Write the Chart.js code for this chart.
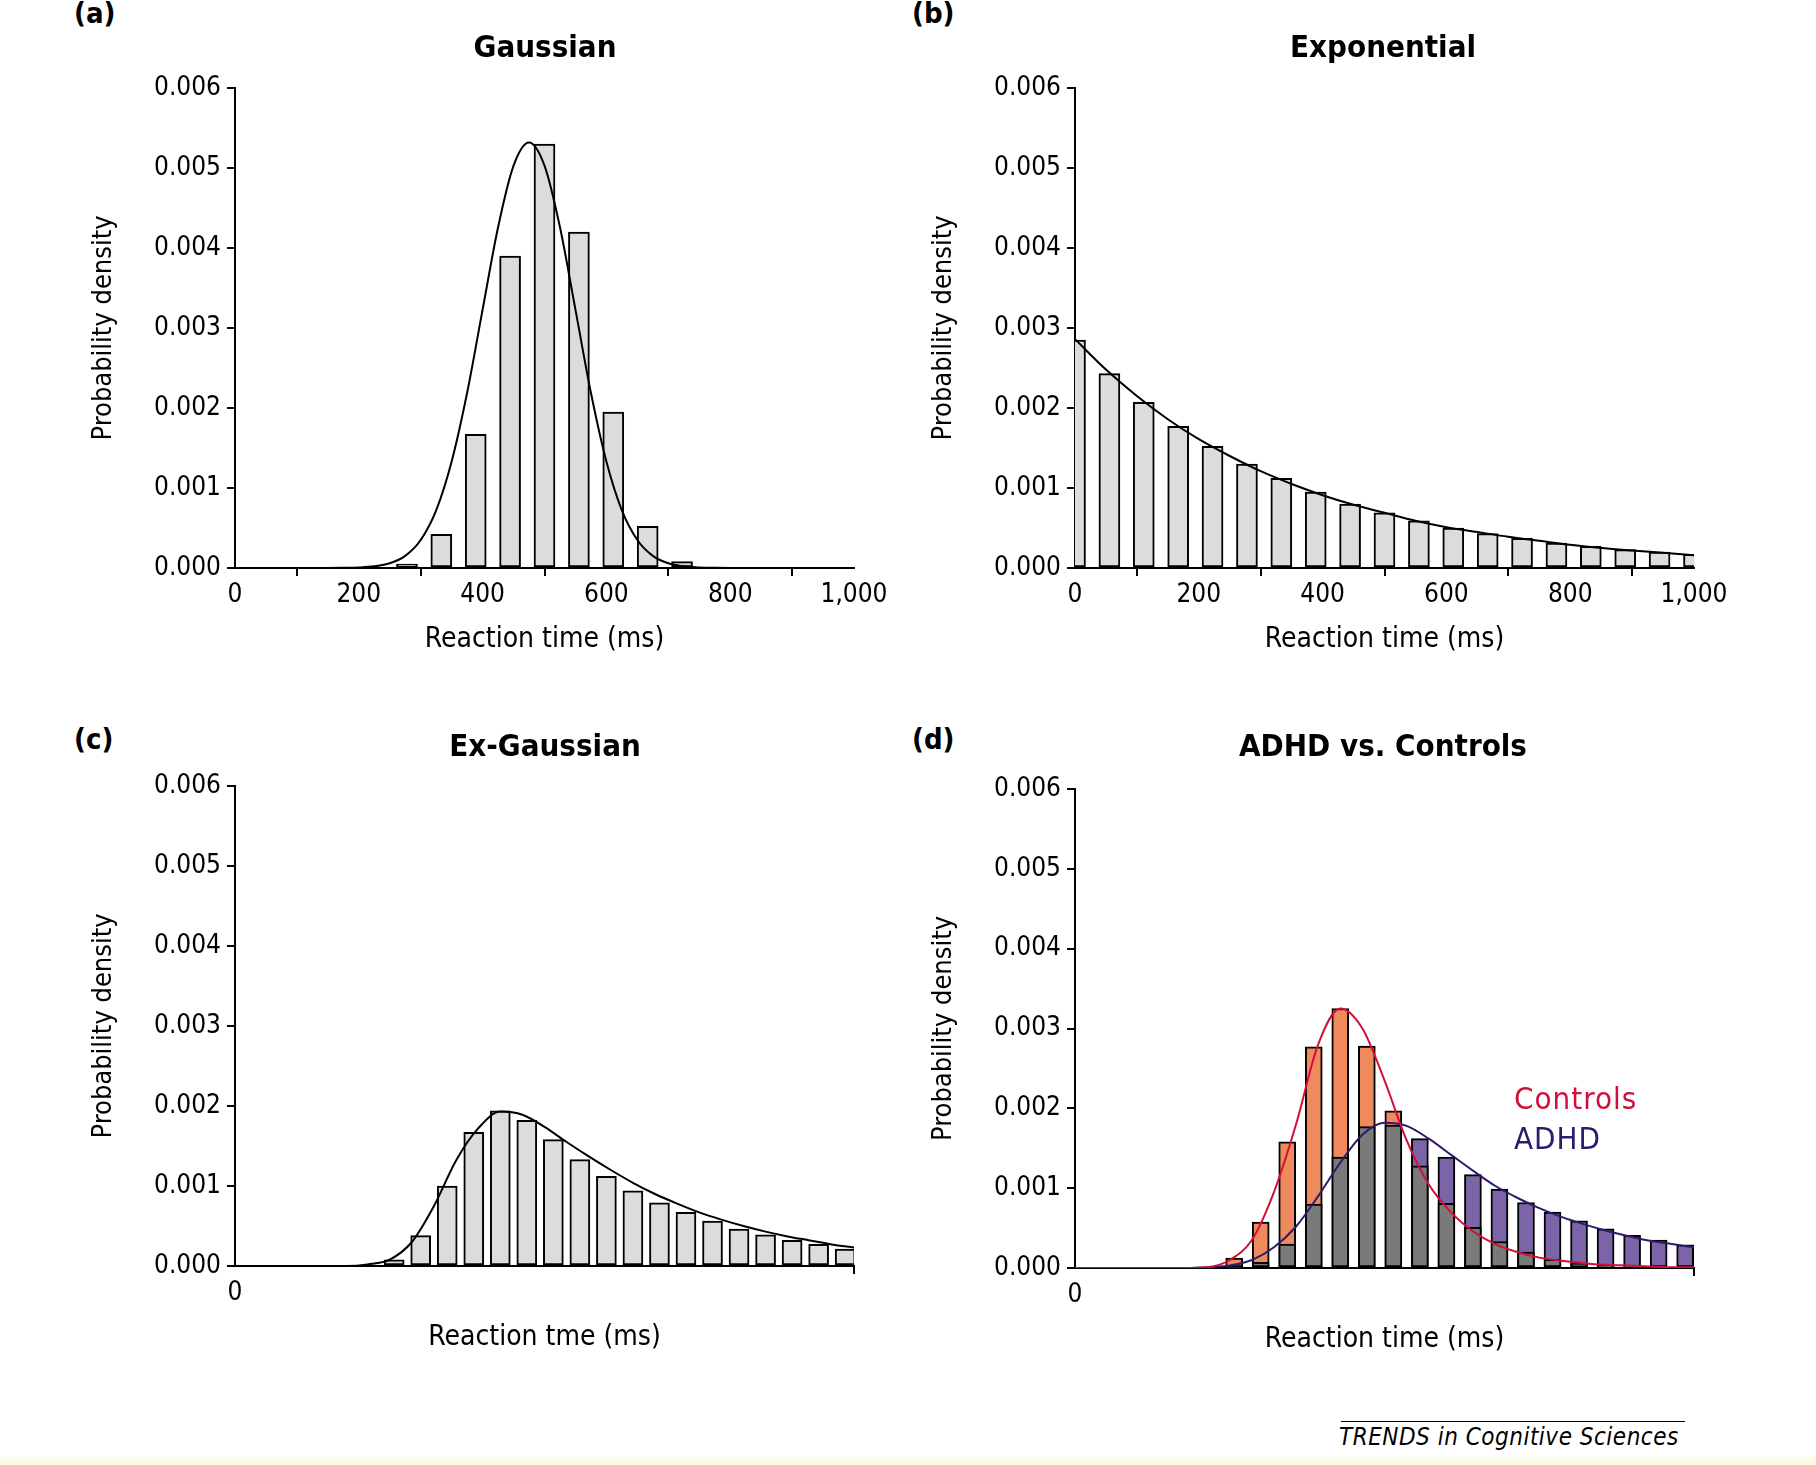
<!DOCTYPE html>
<html><head><meta charset="utf-8">
<script src="https://cdn.jsdelivr.net/npm/chart.js@4.4.1/dist/chart.umd.min.js"></script>
<style>
body{margin:0;width:1816px;height:1465px;background:#fff;position:relative;overflow:hidden;font-family:"DejaVu Sans Condensed","DejaVu Sans",sans-serif;}
canvas{position:absolute;}
.t{position:absolute;white-space:nowrap;color:#000;}
.lt{font-weight:bold;font-size:29px;}
.ti{font-weight:bold;font-size:31px;transform:translateX(-50%);}
</style></head><body>
<canvas id="ca" width="930" height="618" style="left:0;top:60px"></canvas>
<canvas id="cb" width="930" height="618" style="left:840px;top:60px"></canvas>
<canvas id="cc" width="930" height="616" style="left:0;top:760px"></canvas>
<canvas id="cd" width="930" height="618" style="left:840px;top:760px"></canvas>
<div class="t lt" style="left:74px;top:-4px">(a)</div>
<div class="t lt" style="left:912px;top:-4px">(b)</div>
<div class="t lt" style="left:74px;top:722px">(c)</div>
<div class="t lt" style="left:912px;top:722px">(d)</div>
<div class="t ti" style="left:545px;top:28px">Gaussian</div>
<div class="t ti" style="left:1383px;top:28px">Exponential</div>
<div class="t ti" style="left:545px;top:727px">Ex-Gaussian</div>
<div class="t ti" style="left:1383px;top:727px">ADHD vs. Controls</div>
<div class="t" style="left:1514px;top:1080px;font-size:31px;color:#d0103a;letter-spacing:1px">Controls</div>
<div class="t" style="left:1514px;top:1120px;font-size:31px;color:#2e1a6e;letter-spacing:1px">ADHD</div>
<div style="position:absolute;left:1341px;top:1421px;width:344px;border-top:1.5px solid #000"></div>
<div class="t" style="left:1339px;top:1423px;font-size:24px;font-style:italic;letter-spacing:0.5px">TRENDS in Cognitive Sciences</div>
<div style="position:absolute;left:0;top:1457px;width:1816px;height:8px;background:#fffbe3"></div>
<script>
// Panel (a) Gaussian
const gaussBinsX = [277.8,333.3,388.9,444.4,500,555.6,611.1,666.7,722.2];
const gaussBinsY = [0.00005,0.00042,0.00167,0.0039,0.0053,0.0042,0.00195,0.00052,0.00008];
const gaussCurveX = [0,100,150,175,200,225,250,275,300,325,350,375,400,425,450,475,500,525,550,575,600,625,650,675,700,725,750,775,800,825,850,900,1000];
const gaussCurveY = [0,0,0,0.0000018,0.0000064,0.0000205,0.000059,0.000152,0.00035,0.00072,0.00133,0.00219,0.00323,0.00426,0.00503,0.00532,0.00503,0.00426,0.00323,0.00219,0.00133,0.00072,0.00035,0.000152,0.000059,0.0000205,0.0000064,0.0000018,0,0,0,0,0].slice(0);
// Panel (b) Exponential
const expBinsX = [0,55.6,111.1,166.7,222.2,277.8,333.3,388.9,444.4,500,555.6,611.1,666.7,722.2,777.8,833.3,888.9,944.4,1000];
const expBinsY = [0.00285,0.00243,0.00207,0.00177,0.00152,0.0013,0.00112,0.00095,0.0008,0.00069,0.00059,0.0005,0.00043,0.00037,0.00031,0.00027,0.00023,0.0002,0.00017];
const expCurveX = [0,50,100,150,200,250,300,350,400,450,500,550,600,650,700,750,800,850,900,950,1000];
const expCurveY = [0.00286,0.00248,0.00215,0.00186,0.00161,0.0014,0.00121,0.00105,0.00091,0.00079,0.00069,0.00059,0.00051,0.00045,0.00039,0.00034,0.00029,0.00025,0.00022,0.00019,0.00016];
// Panel (c) Ex-Gaussian
const exgBinsX = [360,420,480,540,600,660,720,780,840,900,960,1020,1080,1140,1200,1260,1320,1380];
const exgBinsY = [0.000077,0.00038,0.001,0.00167,0.00194,0.00182,0.00158,0.00133,0.00112,0.00094,0.00079,0.00067,0.00056,0.00046,0.00039,0.00032,0.00027,0.00021];
const curveX14 = [0,50,100,150,200,250,300,350,400,450,500,550,600,650,700,750,800,850,900,950,1000,1050,1100,1150,1200,1250,1300,1350,1400];
const exgCurveY = [0,0,0,0,0,0,0.00002,0.00008,0.0003,0.00075,0.00132,0.00172,0.00193,0.00189,0.00174,0.00155,0.00137,0.0012,0.00104,0.0009,0.00078,0.00067,0.00058,0.0005,0.00043,0.00037,0.00032,0.00027,0.00023];
// Panel (d) ADHD vs Controls
const adhdBinsX = [360,420,480,540,600,660,720,780,840,900,960,1020,1080,1140,1200,1260,1320,1380];
const controlsBinsY = [0.000125,0.000575,0.00158,0.00277,0.00325,0.00278,0.00197,0.00128,0.00081,0.00051,0.00033,0.0002,0.00011,0.00006,0.00003,0.00002,0.00001,0.000005];
const adhdBinsY = [0.00001,0.00007,0.0003,0.0008,0.00139,0.00177,0.00179,0.00162,0.00139,0.00117,0.00099,0.00082,0.0007,0.00059,0.00049,0.00041,0.00035,0.00029];
const controlsCurveY = [0,0,0,0,0,0,0.00001,0.0001,0.00035,0.00095,0.0018,0.0028,0.00325,0.003,0.00235,0.0016,0.00105,0.0007,0.00046,0.0003,0.0002,0.00013,0.00009,0.00006,0.00004,0.00003,0.00002,0.00001,0.00001];
const adhdCurveY = [0,0,0,0,0,0,0.00001,0.00003,0.0001,0.00026,0.00052,0.0009,0.00132,0.00167,0.00182,0.00178,0.00162,0.00142,0.00122,0.00103,0.00088,0.00075,0.00064,0.00055,0.00047,0.0004,0.00034,0.0003,0.00026];
const yTicks = [0,0.001,0.002,0.003,0.004,0.005,0.006];

const FONT = '"DejaVu Sans Condensed","DejaVu Sans",sans-serif';
const pts = (xs, ys) => xs.map((x,i)=>({x:x,y:ys[i]}));
const LIGHT = '#dcdcdc';

function barDs(xs, ys, color, w){
  return {type:'bar', data:pts(xs,ys), backgroundColor:color, borderColor:'#000', borderWidth:2,
    borderSkipped:false, barThickness:w, grouped:false, order:2};
}
function lineDs(xs, ys, color){
  return {type:'line', data:pts(xs,ys), borderColor:color, borderWidth:2, pointRadius:0,
    tension:0.4, cubicInterpolationMode:'monotone', fill:false, order:1};
}
function make(id, datasets, xmax, xstep, xtitle, top){
  new Chart(document.getElementById(id), {
    type:'bar',
    data:{datasets:datasets},
    options:{
      responsive:false, animation:false, devicePixelRatio:1,
      layout:{padding:{top:top,right:76,left:0,bottom:0}},
      plugins:{legend:{display:false},tooltip:{enabled:false}},
      scales:{
        x:{type:'linear', min:0, max:xmax, offset:false,
          afterBuildTicks:s=>{s.ticks = s.ticks.filter(t=>Math.abs(t.value/xstep-Math.round(t.value/xstep))<1e-6);},
          ticks:{stepSize:xstep, color:'#000', font:{family:FONT,size:26}, padding:4, maxRotation:0, autoSkip:false},
          grid:{display:true, drawOnChartArea:false, drawTicks:true, tickLength:8, color:'#000', lineWidth:2},
          border:{display:true, color:'#000', width:2},
          title:{display:true, text:xtitle, color:'#000', font:{family:FONT,size:28}, padding:{top:0,bottom:21}},
          afterFit:s=>{s.height=110; s.paddingLeft=0; s.paddingRight=0;}
        },
        y:{min:0, max:0.006,
          afterBuildTicks:s=>{s.ticks = yTicks.map(v=>({value:v}));},
          ticks:{color:'#000', font:{family:FONT,size:26}, padding:6, callback:v=>v.toFixed(3)},
          grid:{display:true, drawOnChartArea:false, drawTicks:true, tickLength:8, color:'#000', lineWidth:2},
          border:{display:true, color:'#000', width:2},
          title:{display:true, text:'Probability density', color:'#000', font:{family:FONT,size:27}, padding:{top:88,bottom:0}},
          afterFit:s=>{s.width=235; s.paddingTop=0; s.paddingBottom=0;}
        }
      }
    }
  });
}

make('ca', [barDs(gaussBinsX, gaussBinsY, LIGHT, 21), lineDs(gaussCurveX, gaussCurveY, '#000')], 1000, 200, 'Reaction time (ms)', 28);
make('cb', [barDs(expBinsX, expBinsY, LIGHT, 21), lineDs(expCurveX, expCurveY, '#000')], 1000, 200, 'Reaction time (ms)', 28);
make('cc', [barDs(exgBinsX, exgBinsY, LIGHT, 20), lineDs(curveX14, exgCurveY, '#000')], 1400, 500, 'Reaction tme (ms)', 26);

const backY = adhdBinsX.map((x,i)=>Math.max(controlsBinsY[i], adhdBinsY[i]));
const frontY = adhdBinsX.map((x,i)=>Math.min(controlsBinsY[i], adhdBinsY[i]));
const backCol = adhdBinsX.map((x,i)=>controlsBinsY[i] >= adhdBinsY[i] ? '#ef8a5e' : '#7b64a8');
const back = barDs(adhdBinsX, backY, backCol, 17); back.order = 3;
const front = barDs(adhdBinsX, frontY, '#7a7a7a', 17); front.order = 2;
make('cd', [back, front, lineDs(curveX14, controlsCurveY, '#d0103a'), lineDs(curveX14, adhdCurveY, '#2e1a6e')], 1400, 500, 'Reaction time (ms)', 29);
</script>
</body></html>
